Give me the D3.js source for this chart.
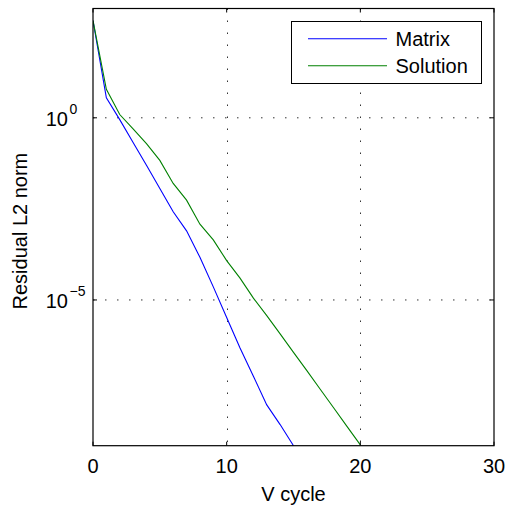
<!DOCTYPE html>
<html>
<head>
<meta charset="utf-8">
<script src="https://cdn.jsdelivr.net/npm/d3@7"></script>
<style>
  html, body { margin: 0; padding: 0; background: #fff; }
  svg text { font-family: "Liberation Sans", Arial, Helvetica, sans-serif; fill: #000; }
</style>
</head>
<body>
<figure id="chart" style="margin:0"></figure>
<script>
// residual L2 norm per V cycle
const cyclesMatrix = d3.range(0, 16);
const matrixResidual = [468, 3.55, 0.89, 0.209, 0.050, 0.0115, 2.63e-3, 7.9e-4, 1.48e-4, 2.29e-5,
  3.31e-6, 4.79e-7, 8.1e-8, 1.32e-8, 3.8e-9, 1.0e-9];
const cyclesSolution = d3.range(0, 21);
const solutionResidual = [468, 6.03, 1.23, 0.50, 0.195, 0.0676, 0.0158, 5.5e-3, 1.2e-3, 4.47e-4,
  1.2e-4, 3.98e-5, 1.12e-5, 3.72e-6, 1.17e-6, 3.63e-7, 1.15e-7, 3.55e-8, 1.10e-8, 3.39e-9, 1.05e-9];
const xTicks = [0, 10, 20, 30];
const yTickExps = [0, -5];
const seriesNames = ["Matrix", "Solution"];
const seriesColors = ["#0000ff", "#008000"];

const width = 509, height = 510;
const margin = { left: 93, right: 15, top: 8.5, bottom: 64.3 };
const innerW = width - margin.left - margin.right;
const innerH = height - margin.top - margin.bottom;

const svg = d3.select("figure#chart")
  .append("svg")
  .attr("width", width)
  .attr("height", height);

const g = svg.append("g")
  .attr("transform", "translate(" + margin.left + "," + margin.top + ")");

const x = d3.scaleLinear().domain([0, 30]).range([0, innerW]);
const y = d3.scaleLog().domain([1e-9, 1e3]).range([innerH, 0]);

// grid (dotted)
const gridStyle = sel => sel.attr("stroke", "#333").attr("stroke-width", 1)
  .attr("stroke-dasharray", "1.5,10.5").attr("fill", "none");
g.selectAll(".vgrid").data(xTicks.slice(1, -1)).enter().append("line")
  .attr("x1", d => Math.round(x(d)) + 0.5).attr("x2", d => Math.round(x(d)) + 0.5)
  .attr("y1", 0).attr("y2", innerH).call(gridStyle);
g.selectAll(".hgrid").data(yTickExps).enter().append("line")
  .attr("x1", 0).attr("x2", innerW)
  .attr("y1", d => y(Math.pow(10, d))).attr("y2", d => y(Math.pow(10, d))).call(gridStyle);

// lines
const line = d3.line().x(d => x(d[0])).y(d => y(d[1]));
g.append("defs").append("clipPath").attr("id", "clip")
  .append("rect").attr("width", innerW).attr("height", innerH + 1);
const series = [
  d3.zip(cyclesMatrix, matrixResidual),
  d3.zip(cyclesSolution, solutionResidual)
];
series.forEach((s, i) => {
  g.append("path").datum(s)
    .attr("clip-path", "url(#clip)")
    .attr("d", line)
    .attr("fill", "none")
    .attr("stroke", seriesColors[i])
    .attr("stroke-width", 1.1);
});

// axes box
g.append("rect").attr("x", 0).attr("y", 0).attr("width", innerW).attr("height", innerH)
  .attr("fill", "none").attr("stroke", "#000").attr("stroke-width", 1.2);

// x ticks (inward, top and bottom)
const tickLen = 4;
xTicks.forEach(t => {
  g.append("line").attr("x1", x(t)).attr("x2", x(t)).attr("y1", innerH).attr("y2", innerH - tickLen)
    .attr("stroke", "#000");
  g.append("line").attr("x1", x(t)).attr("x2", x(t)).attr("y1", 0).attr("y2", tickLen)
    .attr("stroke", "#000");
  g.append("text").attr("x", x(t)).attr("y", innerH + 27.5)
    .attr("text-anchor", "middle").style("font-size", "20px").text(t);
});

// y ticks with 10^n labels
yTickExps.forEach(e => {
  const yy = y(Math.pow(10, e));
  g.append("line").attr("x1", 0).attr("x2", tickLen).attr("y1", yy).attr("y2", yy).attr("stroke", "#000");
  g.append("line").attr("x1", innerW).attr("x2", innerW - tickLen).attr("y1", yy).attr("y2", yy).attr("stroke", "#000");
  g.append("text").attr("x", -25).attr("y", yy + 8.5)
    .attr("text-anchor", "end").style("font-size", "20px").text("10");
  g.append("text").attr("x", -23.5).attr("y", yy - 4.3)
    .attr("text-anchor", "start").style("font-size", "14px")
    .text(e < 0 ? "\u2212" + Math.abs(e) : e);
});

// axis labels
svg.append("text").attr("x", margin.left + innerW / 2).attr("y", 501)
  .attr("text-anchor", "middle").style("font-size", "20px").text("V cycle");
svg.append("text")
  .attr("transform", "translate(27," + (margin.top + innerH / 2 + 4) + ") rotate(-90)")
  .attr("text-anchor", "middle").style("font-size", "20px").text("Residual L2 norm");

// legend
const legend = svg.append("g");
legend.append("rect").attr("x", 291.5).attr("y", 21.5).attr("width", 190).attr("height", 62)
  .attr("fill", "#fff").attr("stroke", "#000").attr("stroke-width", 1);
seriesNames.forEach((name, i) => {
  const ly = 38.7 + i * 27;
  legend.append("line").attr("x1", 308).attr("x2", 387).attr("y1", ly).attr("y2", ly)
    .attr("stroke", seriesColors[i]).attr("stroke-width", 1.1);
  legend.append("text").attr("x", 395.5).attr("y", ly + 7)
    .style("font-size", "20px").text(name);
});
</script>
</body>
</html>
